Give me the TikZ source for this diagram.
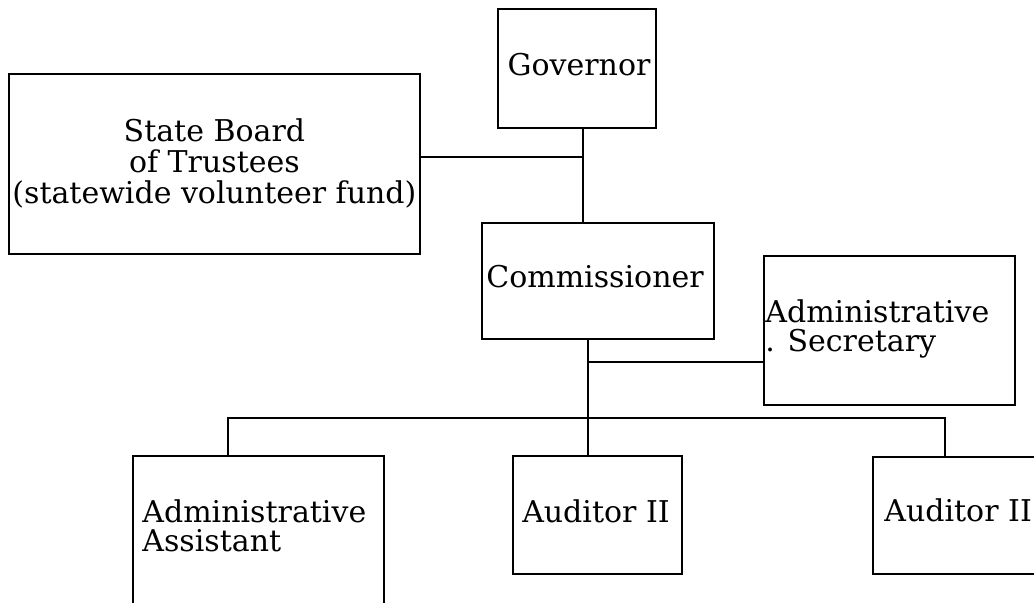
\documentclass[tikz,border=0pt]{standalone}
\usepackage{fontspec}
\setmainfont{DejaVu Serif}

\begin{document}
\begin{tikzpicture}[x=0.5pt,y=-0.5pt,
  box/.style={draw=black,line width=0.9pt,inner sep=0pt,anchor=north west},
  txt/.style={inner sep=0pt,font=\fontsize{15}{14.5}\selectfont},
  link/.style={draw=black,line width=0.9pt}]
\useasboundingbox (0,0) rectangle (1034,603);
\clip (0,0) rectangle (1034,603);
% top: governor and board
\node[box,minimum width=79pt,minimum height=59.5pt] (gov) at (497,8) {};
\node[txt,anchor=base] (gov-lbl) at (579,76) {Governor};
\node[box,minimum width=205.5pt,minimum height=90pt,align=center,
  font=\fontsize{15}{15.5}\selectfont] (board) at (8,73)
  {State Board\\of Trustees\\(statewide volunteer fund)};
% commissioner and secretary
\node[box,minimum width=116pt,minimum height=58pt] (comm) at (481,222) {};
\node[txt,anchor=base] (comm-lbl) at (595,288) {Commissioner};
\node[box,minimum width=125.5pt,minimum height=74.5pt] (sec) at (763,255) {};
\node[txt,anchor=north west,align=left] (sec-lbl) at (765,299) {Administrative\\. Secretary};
% bottom row
\node[box,minimum width=125.5pt,minimum height=100pt] (assist) at (132,455) {};
\node[txt,anchor=north west,align=left] (assist-lbl) at (142,499) {Administrative\\Assistant};
\node[box,minimum width=84.5pt,minimum height=59pt] (audM) at (512,455) {};
\node[txt,anchor=base] (audM-lbl) at (596,523) {Auditor II};
\node[box,minimum width=100pt,minimum height=58.5pt] (audR) at (872,456) {};
\node[txt,anchor=base west] (audR-lbl) at (884,522) {Auditor II};
% lines
\coordinate (top) at (583,157);
\coordinate (mid) at (588,362);
\coordinate (bus) at (588,418);
\coordinate (busL) at (228,418);
\coordinate (busR) at (945,418);
\draw[link] (gov.south -| top) -- (comm.north -| top);
\draw[link] (board.east |- top) -- (top);
\draw[link] (comm.south -| bus) -- (audM.north -| bus);
\draw[link] (mid) -- (sec.west |- mid);
\draw[link] (assist.north -| busL) -- (busL) -- (busR) -- (audR.north -| busR);
\end{tikzpicture}
\end{document}
